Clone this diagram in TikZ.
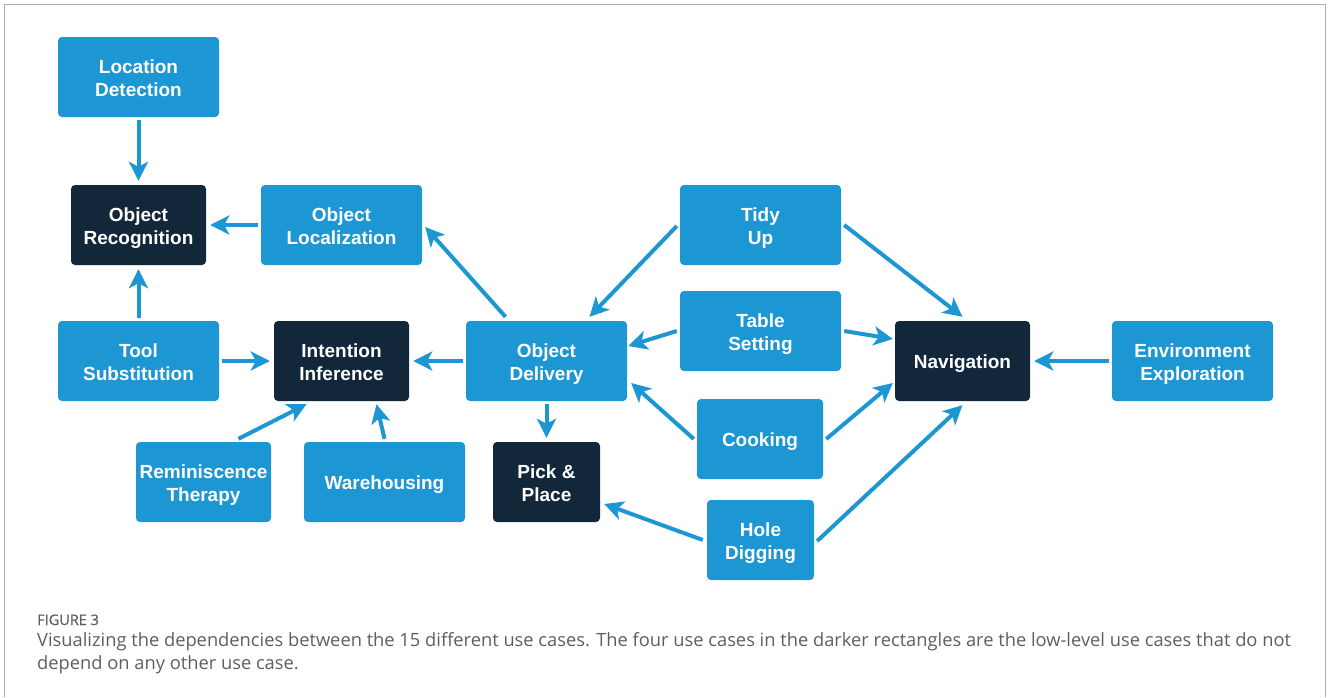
\documentclass[tikz,border=0pt]{standalone}
\usepackage{fontspec}
\setmainfont{Liberation Sans}
\newfontfamily\captionfont{Open Sans}
\newfontfamily\figlabelfont[FakeBold=0.6]{Open Sans}
\usetikzlibrary{arrows.meta,calc}

\definecolor{caseblue}{HTML}{1D96D4}
\definecolor{casedark}{HTML}{13273A}
\definecolor{framegray}{HTML}{ABABAB}
\definecolor{captiongray}{HTML}{5E5E5E}

\tikzset{
  % two-line boxes: text centred from cap top of line 1 to baseline of line 2
  usecase/.style={fill=caseblue, rounded corners=4pt, minimum height=80pt,
    text=white, align=center, inner sep=0pt,
    text height=38pt, text depth=-2pt,
    font=\fontsize{19}{23}\selectfont\bfseries},
  oneline/.style={text height=14pt, text depth=-1pt},
  lowlevel/.style={usecase, fill=casedark},
  dep/.style={draw=caseblue, line width=4pt,
    -{Stealth[length=19pt, width=19pt, inset=5pt]}},
  gap/.style={shorten <=3pt, shorten >=4pt}
}

\begin{document}
\begin{tikzpicture}[x=1pt, y=-1pt]
  \useasboundingbox (0,0) rectangle (1328,697);

  % outer frame, open at the bottom
  \draw[framegray, line width=1.5pt] (4.5,697) -- (4.5,4.5) -- (1325.5,4.5) -- (1325.5,697);

  % use cases
  \node[usecase,  minimum width=161pt] (ld)   at (138.5,77)  {Location\\Detection};
  \node[lowlevel, minimum width=135pt] (orec) at (138.5,225) {Object\\Recognition};
  \node[usecase,  minimum width=161pt] (oloc) at (341.5,225) {Object\\Localization};
  \node[usecase,  minimum width=161pt] (tidy) at (760.5,225) {Tidy\\Up};
  \node[usecase,  minimum width=161pt] (ts)   at (138.5,361) {Tool\\Substitution};
  \node[lowlevel, minimum width=135pt] (ii)   at (341.5,361) {Intention\\Inference};
  \node[usecase,  minimum width=161pt] (od)   at (546.5,361) {Object\\Delivery};
  \node[usecase,  minimum width=161pt] (tab)  at (760.5,331) {Table\\Setting};
  \node[lowlevel, oneline, minimum width=135pt] (nav) at (962.5,361) {Navigation};
  \node[usecase,  minimum width=161pt] (env)  at (1192.5,361) {Environment\\Exploration};
  \node[usecase,  oneline, minimum width=126pt] (cook) at (760,439) {Cooking};
  \node[usecase,  minimum width=135pt] (rt)   at (203.5,482) {Reminiscence\\Therapy};
  \node[usecase,  oneline, minimum width=161pt] (wh) at (384.5,482) {Warehousing};
  \node[lowlevel, minimum width=107pt] (pp)   at (546.5,482) {Pick \&\\Place};
  \node[usecase,  minimum width=107pt] (hd)   at (760.5,540) {Hole\\Digging};

  % dependencies
  \draw[dep, gap] (ld.south) -- (orec.north);
  \draw[dep, gap] (oloc.west) -- (orec.east);
  \draw[dep, gap] (ts.north) -- (orec.south);
  \draw[dep, gap] (ts.east) -- (ii.west);
  \draw[dep, gap] (od.west) -- (ii.east);
  \draw[dep] ($(rt.north)+(35,-3)$) -- ($(ii.south)+(-35,3)$);
  \draw[dep] ($(wh.north)+(0,-3)$) -- ($(ii.south)+(35,3)$);
  \draw[dep] ($(od.north)+(-41,-4)$) -- ($(oloc.east)+(3,2)$);
  \draw[dep, gap] (od.south) -- (pp.north);
  \draw[dep] ($(tidy.west)+(-3,1)$) -- ($(od.north)+(43,-4)$);
  \draw[dep] ($(tidy.east)+(3,0)$) -- ($(nav.north)+(0,-4)$);
  \draw[dep] ($(tab.west)+(-3,0)$) -- ($(od.east)+(1,-15)$);
  \draw[dep] ($(tab.east)+(3,0)$) -- ($(nav.west)+(-2,-22)$);
  \draw[dep] ($(cook.west)+(-3,0)$) -- ($(od.east)+(4,22)$);
  \draw[dep] ($(cook.east)+(3,0)$) -- ($(nav.west)+(-2,22)$);
  \draw[dep] ($(hd.west)+(-4,0)$) -- ($(pp.east)+(4,22)$);
  \draw[dep] ($(hd.east)+(3,1)$) -- ($(nav.south)+(0,4)$);
  \draw[dep, gap] (env.west) -- (nav.east);

  % caption
  \node[anchor=base west, inner sep=0pt, text=captiongray,
        font=\figlabelfont\fontsize{14.5}{16}\selectfont] (fig) at (37,625) {FIGURE 3};
  \node[anchor=base west, inner sep=0pt, text=captiongray, align=left,
        font=\captionfont\fontsize{18.3}{23}\selectfont] (cap) at (37,669)
    {Visualizing the dependencies between the 15 different use cases. The four use cases in the darker rectangles are the low-level use cases that do not\\
     depend on any other use case.};
\end{tikzpicture}
\end{document}
